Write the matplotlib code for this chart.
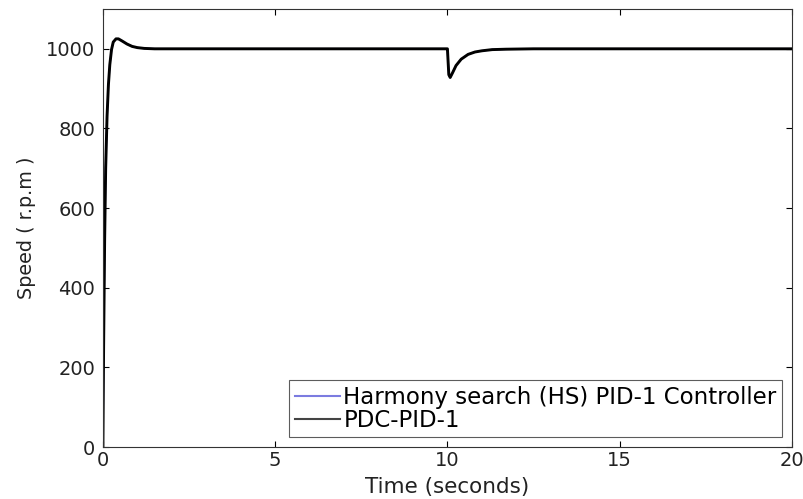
import matplotlib
matplotlib.use('Agg')
import matplotlib.pyplot as plt

# values
time = [0, 0.02, 0.05, 0.08, 0.12, 0.16, 0.2, 0.25, 0.3, 0.38, 0.45, 0.55, 0.7, 0.85,
        1.0, 1.2, 1.5, 2.0, 9.98, 10.0, 10.04, 10.08, 10.15, 10.25, 10.4, 10.6, 10.8,
        11.0, 11.3, 11.7, 12.5, 20]
pdc_speed = [0, 250, 520, 700, 830, 910, 960, 998, 1017, 1025, 1025, 1020, 1012, 1006,
             1003, 1001, 1000, 1000, 1000, 1000, 935, 928, 940, 958, 974, 986, 992,
             995, 998, 999, 1000, 1000]
hs_speed = [0, 250, 520, 700, 830, 910, 960, 998, 1017, 1025, 1025, 1020, 1012, 1006,
            1003, 1001, 1000, 1000, 1000, 1000, 935, 928, 940, 958, 974, 986, 992,
            995, 998, 999, 1000, 1000]
labels = ['Harmony search (HS) PID-1 Controller', 'PDC-PID-1']

plt.rcParams['font.family'] = ['DejaVu Sans']
fig = plt.figure(figsize=(8.04, 4.99), dpi=100)
ax = fig.add_axes([0.128, 0.104, 0.857, 0.878])

ax.plot(time, hs_speed, color='#6a6aff', lw=1.2, label=labels[0])
ax.plot(time, pdc_speed, color='black', lw=2.1, label=labels[1])

ax.set_xlim(0, 20)
ax.set_ylim(0, 1100)
ax.set_xticks([0, 5, 10, 15, 20])
ax.set_yticks([0, 200, 400, 600, 800, 1000])
ax.tick_params(direction='in', top=True, right=True, labelsize=14, length=4, width=0.8,
               labelcolor='#222222')
ax.tick_params(axis='x', pad=3)
ax.tick_params(axis='y', pad=5.5)
for s in ax.spines.values():
    s.set_linewidth(0.8)
    s.set_color('#333333')

ax.set_xlabel('Time (seconds)', fontsize=15.5, labelpad=5, color='#222222')
ax.set_ylabel('Speed ( r.p.m )', fontsize=13.8, labelpad=7, color='#222222')

leg = ax.legend(loc='lower right', fontsize=16.5, frameon=True, fancybox=False,
                edgecolor='#333333', handlelength=2.0, handletextpad=0.13,
                borderpad=0.25, labelspacing=0.0, borderaxespad=0.42)
leg.get_frame().set_linewidth(0.8)
for h in leg.get_lines():
    h.set_linewidth(1.5)
leg.get_lines()[0].set_color('#7b7be0')
leg.get_lines()[1].set_color('#444444')

fig.savefig('out.png', dpi=100)
